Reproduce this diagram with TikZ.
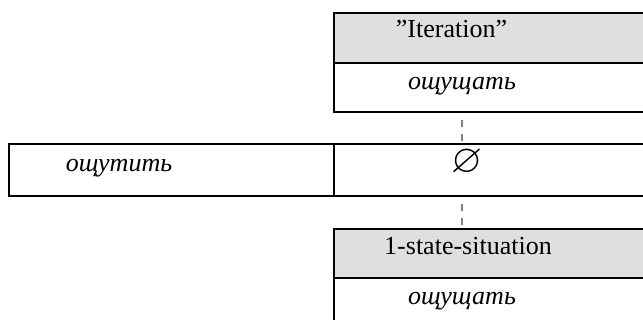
\documentclass[tikz,border=0pt]{standalone}
\usepackage{amssymb}
\usepackage{fontspec}
\setmainfont{Liberation Serif}
\definecolor{hdrgray}{RGB}{223,223,223}
\definecolor{linkgray}{RGB}{128,128,128}
\begin{document}
\begin{tikzpicture}[x=0.75pt,y=-0.75pt,
  box/.style={draw=black, line width=1.5pt, inner sep=0pt, anchor=north west},
  hdr/.style={box, fill=hdrgray},
  lbl/.style={inner sep=0pt, anchor=base, font=\fontsize{19.5}{22}\selectfont},
  ilbl/.style={inner sep=0pt, anchor=base, font=\fontsize{19.5}{22}\selectfont\itshape},
  link/.style={draw=linkgray, line width=1.5pt, dash pattern=on 5.25pt off 5.25pt, dash phase=5.25pt}
]
\path[use as bounding box] (0,0) rectangle (643,320);
% top box
\node[hdr, minimum width=245.25pt, minimum height=37.5pt] (t1) at (333,12) {};
\node[box, minimum width=245.25pt, minimum height=36.75pt] (t2) at (333,62) {};
% middle row
\node[box, minimum width=243.75pt, minimum height=39pt] (m1) at (8,143) {};
\node[box, minimum width=245.25pt, minimum height=39pt] (m2) at (333,143) {};
% bottom box
\node[hdr, minimum width=245.25pt, minimum height=36.75pt] (b1) at (333,228) {};
\node[box, minimum width=245.25pt, minimum height=45pt] (b2) at (333,277) {};
% labels
\node[lbl] (tl1) at (451.5,38) {”Iteration”};
\node[ilbl] (tl2) at (462,90) {ощущать};
\node[ilbl] (ml1) at (119,172) {ощутить};
\node[inner sep=0pt, scale=3] (ml2) at (467,163) {$\varnothing$};
\node[lbl] (bl1) at (468,255) {1-state-situation};
\node[ilbl] (bl2) at (462,305) {ощущать};
% dashed links
\coordinate (dx) at (462,0);
\draw[link] (dx |- t2.south) -- (dx |- m2.north);
\draw[link] (dx |- m2.south) -- (dx |- b1.north);
\end{tikzpicture}
\end{document}
